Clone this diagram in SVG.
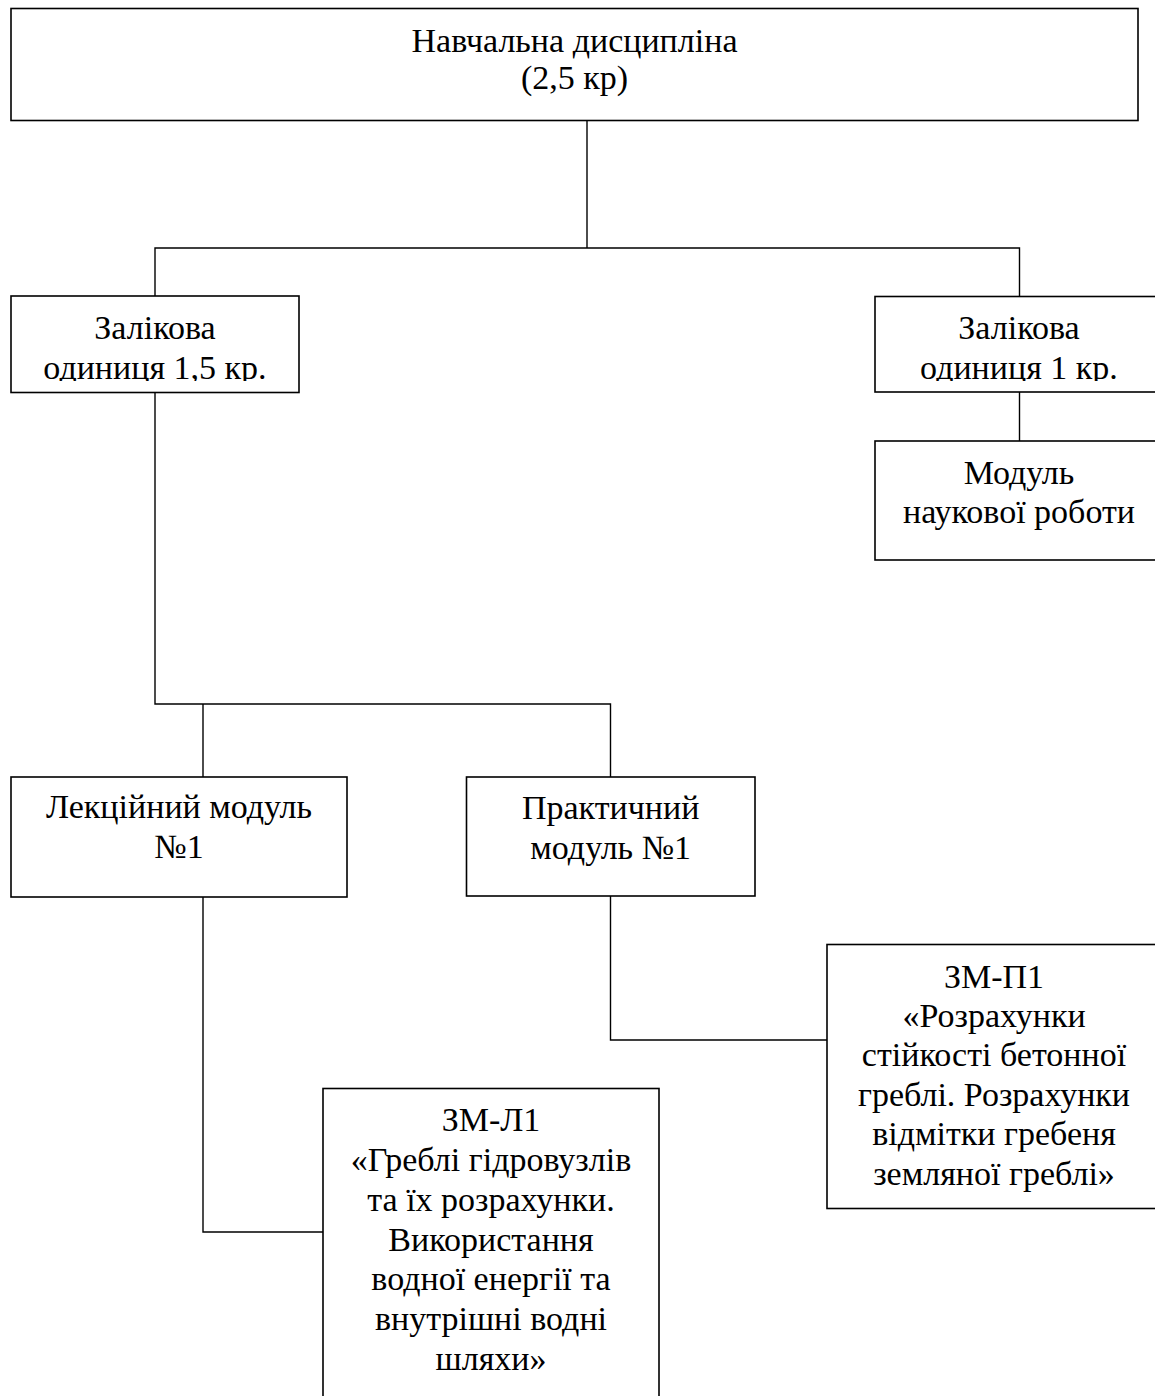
<svg xmlns="http://www.w3.org/2000/svg" width="1155" height="1396" viewBox="0 0 1155 1396">
<style>
.box{fill:#fff;stroke:#000;stroke-width:1.6}
.c{fill:none;stroke:#000;stroke-width:1.4}
text{font-family:"Liberation Serif","Times New Roman",serif;font-size:34px;fill:#000;text-anchor:middle}
</style>
<defs>
<clipPath id="clipL"><rect x="11" y="296" width="288" height="85"/></clipPath>
<clipPath id="clipR"><rect x="875" y="296" width="290" height="85"/></clipPath>
</defs>
<rect width="1155" height="1396" fill="#fff"/>
<g id="connectors">
<path class="c" d="M587 121 V248"/>
<path class="c" d="M155 296 V248 H1019.5 V296"/>
<path class="c" d="M1019.5 392 V441"/>
<path class="c" d="M155 393 V704 H610.5 V777"/>
<path class="c" d="M203 704 V777"/>
<path class="c" d="M203 897 V1232 H323"/>
<path class="c" d="M610.5 896 V1040 H827"/>
</g>
<g id="n-discipline">
<rect class="box" x="11" y="8.5" width="1127" height="112"/>
<text x="574.5" y="52">Навчальна дисципліна</text>
<text x="574.5" y="89">(2,5 кр)</text>
</g>
<g id="n-unit15">
<rect class="box" x="11" y="296" width="288" height="96.5"/>
<g clip-path="url(#clipL)">
<text x="155" y="339">Залікова</text>
<text x="155" y="379">одиниця 1,5 кр.</text>
</g>
</g>
<g id="n-unit1">
<rect class="box" x="875" y="296.5" width="290" height="95.5"/>
<g clip-path="url(#clipR)">
<text x="1019" y="339">Залікова</text>
<text x="1019" y="379">одиниця 1 кр.</text>
</g>
</g>
<g id="n-research">
<rect class="box" x="875" y="441" width="290" height="119"/>
<text x="1019" y="484">Модуль</text>
<text x="1019" y="523">наукової роботи</text>
</g>
<g id="n-lecture">
<rect class="box" x="11" y="777" width="336" height="120"/>
<text x="179" y="818">Лекційний модуль</text>
<text x="179" y="858">№1</text>
</g>
<g id="n-practical">
<rect class="box" x="466.5" y="777" width="288.5" height="119"/>
<text x="610.7" y="819">Практичний</text>
<text x="610.7" y="858.5">модуль №1</text>
</g>
<g id="n-zmp1">
<rect class="box" x="827" y="944.5" width="336" height="264"/>
<text x="994" y="988">ЗМ-П1</text>
<text x="994" y="1027">«Розрахунки</text>
<text x="994" y="1066">стійкості бетонної</text>
<text x="994" y="1106">греблі. Розрахунки</text>
<text x="994" y="1145">відмітки гребеня</text>
<text x="994" y="1185">земляної греблі»</text>
</g>
<g id="n-zml1">
<rect class="box" x="323" y="1088.5" width="336" height="330"/>
<text x="491" y="1131">ЗМ-Л1</text>
<text x="491" y="1171">«Греблі гідровузлів</text>
<text x="491" y="1210.5">та їх розрахунки.</text>
<text x="491" y="1250.5">Використання</text>
<text x="491" y="1290">водної енергії та</text>
<text x="491" y="1330">внутрішні водні</text>
<text x="491" y="1370">шляхи»</text>
</g>
</svg>
